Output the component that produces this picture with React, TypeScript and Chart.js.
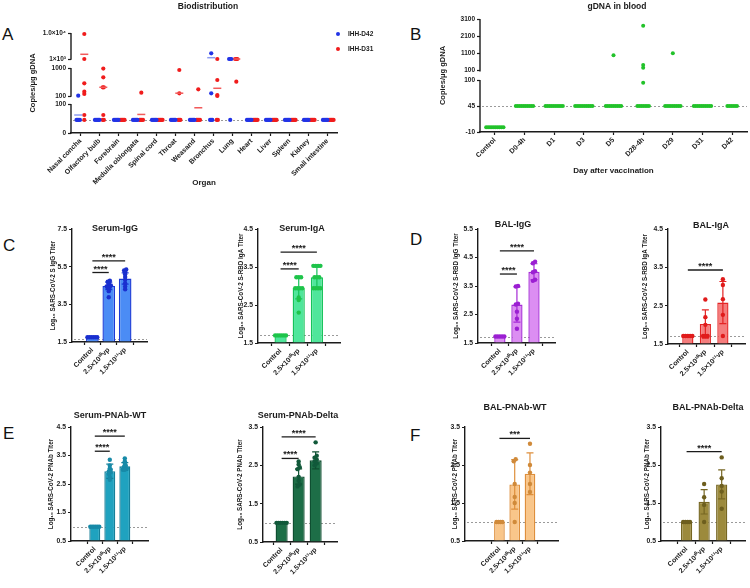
import React, { useEffect, useRef } from 'react';
import { Chart, registerables, LinearScale } from 'chart.js';

Chart.register(...registerables);

const FONT = '"Liberation Sans", Arial, Helvetica, sans-serif';
const INK = '#1b1b1b';
const LOD_COLOR = '#9a9a9a';

// ---------------- Panel A: Biodistribution ----------------
const organs = ['Nasal concha', 'Olfactory bulb', 'Forebrain', 'Medulla oblongata', 'Spinal cord', 'Throat', 'Weasand', 'Bronchus', 'Lung', 'Heart', 'Liver', 'Spleen', 'Kidney', 'Small intestine'];
const d42Values: number[][] = [
  [110, 45, 45, 45, 45],
  [45, 45, 45, 45, 45],
  [45, 45, 45, 45, 45],
  [45, 45, 45, 45, 45],
  [45, 45, 45, 45, 45],
  [45, 45, 45, 45, 45],
  [45, 45, 45, 45, 45],
  [2970, 187, 45, 45, 45],
  [1000, 1000, 1000, 45],
  [45, 45, 45, 45, 45],
  [45, 45, 45, 45, 45],
  [45, 45, 45, 45, 45],
  [45, 45, 45, 45, 45],
  [45, 45, 45, 45, 45],
];
const d31Values: number[][] = [
  [9650, 1000, 508, 238, 164, 62, 45],
  [980, 701, 380, 380, 62, 45, 45],
  [45, 45, 45, 45, 45],
  [206, 45, 45, 45, 45],
  [45, 45, 45, 45, 45],
  [936, 187, 45, 45, 45],
  [315, 45, 45, 45, 45],
  [1000, 614, 130, 100, 45, 45],
  [1000, 1000, 1000, 560],
  [45, 45, 45, 45, 45],
  [45, 45, 45, 45, 45],
  [45, 45, 45, 45, 45],
  [45, 45, 45, 45, 45],
  [45, 45, 45, 45, 45],
];
const d42Means: (number | null)[] = [62, null, null, null, null, null, null, 1450, null, null, null, null, null, null];
const d31Means: (number | null)[] = [2630, 380, null, 64, null, 190, 87, 348, 1000, null, null, null, null, null];
const aTickValues = [0, 100, 100, 1000, 1000, 10000];
const aTickLabels = ['0', '100', '100', '1000', '1×10³', '1.0×10⁴'];
const aTickSegments = [0, 0, 1, 1, 2, 2];
const aLod = 45;

// ---------------- Panel B: gDNA in blood ----------------
const days = ['Control', 'D0-4h', 'D1', 'D3', 'D5', 'D28-4h', 'D29', 'D31', 'D42'];
const bValues: number[][] = [
  [0, 0, 0, 0, 0, 0, 0, 0, 0, 0],
  [45, 45, 45, 45, 45, 45, 45, 45, 45, 45],
  [45, 45, 45, 45, 45, 45, 45, 45, 45, 45],
  [45, 45, 45, 45, 45, 45, 45, 45, 45, 45],
  [1000, 45, 45, 45, 45, 45, 45, 45, 45, 45],
  [2711, 431, 274, 94, 45, 45, 45, 45, 45, 45, 45],
  [1110, 45, 45, 45, 45, 45, 45, 45, 45, 45],
  [45, 45, 45, 45, 45, 45, 45, 45, 45, 45],
  [45, 45, 45, 45, 45, 45],
];
const bTickValues = [-10, 45, 100, 100, 1100, 2100, 3100];
const bTickLabels = ['-10', '45', '100', '100', '1100', '2100', '3100'];
const bTickSegments = [0, 0, 0, 1, 1, 1, 1];
const bLod = 45;

// ---------------- Bar panels ----------------
const groups = ['Control', '2.5×10¹⁰vp', '1.5×10¹¹vp'];

const serumIgGTicks = [1.5, 3.5, 5.5, 7.5];
const serumIgGMeans = [1.75, 4.48, 4.87];
const serumIgGSD = [0, 0.2, 0.3];
const serumIgGPoints = [[1.75, 1.75, 1.75, 1.75, 1.75, 1.75], [4.75, 4.7, 4.62, 4.55, 4.5, 4.5, 4.45, 4.42, 4.38, 4.3, 4.2, 3.88], [5.35, 5.3, 5.22, 5.1, 4.95, 4.8, 4.62, 4.45, 4.3]];
const serumIgGSig = [{ from: 0, to: 1, y: 5.19, text: '****' }, { from: 0, to: 2, y: 5.81, text: '****' }];

const serumIgATicks = [1.5, 2.5, 3.5, 4.5];
const serumIgAMeans = [1.7, 2.94, 3.23];
const serumIgASD = [0, 0.28, 0.27];
const serumIgAPoints = [[1.7, 1.7, 1.7, 1.7, 1.7, 1.7], [3.23, 3.23, 3.23, 2.94, 2.94, 2.94, 2.94, 2.7, 2.63, 2.3], [3.53, 3.53, 3.53, 3.53, 3.23, 3.23, 3.23, 2.94, 2.94, 2.94, 2.94]];
const serumIgASig = [{ from: 0, to: 1, y: 3.45, text: '****' }, { from: 0, to: 2, y: 3.89, text: '****' }];

const balIgGTicks = [1.5, 2.5, 3.5, 4.5, 5.5];
const balIgGMeans = [1.73, 2.85, 4.0];
const balIgGSD = [0, 0.62, 0.28];
const balIgGPoints = [[1.73, 1.73, 1.73, 1.73, 1.73], [3.5, 3.48, 2.88, 2.85, 2.6, 2.35, 2.0], [4.3, 4.35, 4.02, 3.98, 3.72, 3.68]];
const balIgGSig = [{ from: 0, to: 1, y: 3.92, text: '****' }, { from: 0, to: 2, y: 4.73, text: '****' }];

const balIgATicks = [1.5, 2.5, 3.5, 4.5];
const balIgAMeans = [1.71, 2.02, 2.58];
const balIgASD = [0, 0.37, 0.55];
const balIgAPoints = [[1.71, 1.71, 1.71, 1.71, 1.71], [2.66, 2.2, 2.0, 1.71, 1.71, 1.71], [3.19, 3.04, 2.67, 2.26, 1.71]];
const balIgASig = [{ from: 0, to: 2, y: 3.43, text: '****' }];

const serumWTTicks = [0.5, 1.5, 2.5, 3.5, 4.5];
const serumWTMeans = [1.0, 2.95, 3.12];
const serumWTSD = [0, 0.25, 0.13];
const serumWTPoints = [[1, 1, 1, 1, 1, 1], [3.35, 3.15, 3.05, 3.0, 2.95, 2.9, 2.85, 2.75, 2.65], [3.4, 3.3, 3.2, 3.15, 3.1, 3.05, 3.0, 3.0]];
const serumWTSig = [{ from: 0, to: 1, y: 3.65, text: '****' }, { from: 0, to: 2, y: 4.18, text: '****' }];

const serumDeltaTicks = [0.5, 1.5, 2.5, 3.5];
const serumDeltaMeans = [1.0, 2.21, 2.63];
const serumDeltaSD = [0, 0.2, 0.22];
const serumDeltaPoints = [[1, 1, 1, 1, 1, 1], [2.6, 2.52, 2.45, 2.4, 2.2, 2.1, 2.0, 1.95], [3.1, 2.75, 2.7, 2.65, 2.6, 2.55, 2.5]];
const serumDeltaSig = [{ from: 0, to: 1, y: 2.68, text: '****' }, { from: 0, to: 2, y: 3.24, text: '****' }];

const balWTTicks = [0.5, 1.5, 2.5, 3.5];
const balWTMeans = [1.0, 1.99, 2.27];
const balWTSD = [0, 0.65, 0.55];
const balWTPoints = [[1, 1, 1, 1], [2.65, 2.6, 2.0, 1.66, 1.5, 1.0], [3.06, 2.5, 2.3, 2.0, 1.79]];
const balWTSig = [{ from: 0, to: 2, y: 3.2, text: '***' }];

const balDeltaTicks = [0.5, 1.5, 2.5, 3.5];
const balDeltaMeans = [1.0, 1.53, 1.99];
const balDeltaSD = [0, 0.32, 0.38];
const balDeltaPoints = [[1, 1, 1, 1], [2.0, 1.65, 1.45, 1.0], [2.7, 2.15, 1.95, 1.8, 1.35]];
const balDeltaSig = [{ from: 0, to: 2, y: 2.85, text: '****' }];

// ---------------- helpers ----------------
type Seg = { v0: number; v1: number; d0: number; d1: number };
type Box = { L: number; T: number; R: number; B: number; l: number; t: number; r: number; b: number; yTitleX: number; xTitleY?: number };

const segsA: Seg[] = [
  { v0: 0, v1: 100, d0: 0, d1: 0.29 },
  { v0: 100, v1: 1000, d0: 0.37, d1: 0.65 },
  { v0: 1000, v1: 10000, d0: 0.74, d1: 1 },
];
const segsB: Seg[] = [
  { v0: -10, v1: 100, d0: 0, d1: 0.46 },
  { v0: 100, v1: 3100, d0: 0.5425, d1: 1 },
];

function segIndexFor(segs: Seg[], v: number) {
  for (let i = 0; i < segs.length; i++) if (v < segs[i].v1) return i;
  return segs.length - 1;
}
function valueToDecimal(segs: Seg[], v: number, si?: number) {
  const s = segs[si != null ? si : segIndexFor(segs, v)];
  return s.d0 + ((v - s.v0) / (s.v1 - s.v0)) * (s.d1 - s.d0);
}
function decimalToValue(segs: Seg[], d: number) {
  let s = segs[segs.length - 1];
  for (const sg of segs) if (d <= sg.d1) { s = sg; break; }
  return s.v0 + ((d - s.d0) / (s.d1 - s.d0)) * (s.v1 - s.v0);
}
function makeBrokenScale(id: string, segs: Seg[]) {
  class BrokenScale extends (LinearScale as any) {
    static id = id;
    static defaults = {};
    getPixelForValue(value: number) {
      return this.getPixelForDecimal(valueToDecimal(segs, value));
    }
    getValueForPixel(pixel: number) {
      return decimalToValue(segs, this.getDecimalForPixel(pixel));
    }
    getPixelForTick(index: number) {
      const t = this.ticks[index];
      if (!t) return null;
      return this.getPixelForDecimal(t.dec != null ? t.dec : valueToDecimal(segs, t.value));
    }
  }
  return BrokenScale;
}
Chart.register(makeBrokenScale('brokenA', segsA) as any, makeBrokenScale('brokenB', segsB) as any);

function swarm(vals: number[], tol: (v: number) => number, step: number, maxHalf: number): number[] {
  const order = vals.map((_, i) => i).sort((a, b) => vals[a] - vals[b]);
  const out = vals.map(() => 0);
  let s = 0;
  while (s < order.length) {
    let e = s + 1;
    const base = vals[order[s]];
    while (e < order.length && vals[order[e]] - base <= tol(base)) e++;
    const m = e - s;
    const st = m > 1 ? Math.min(step, (2 * maxHalf) / (m - 1)) : 0;
    for (let k = 0; k < m; k++) out[order[s + k]] = (k - (m - 1) / 2) * st;
    s = e;
  }
  return out;
}

function font(size: number, bold = true) {
  return { family: FONT, size, weight: bold ? 'bold' : 'normal', lineHeight: 1.2 };
}

function yAxis(box: Box, o: { type?: string; min: number; max: number; values: number[]; labels: string[]; decs?: number[]; title: string; titleSize: number; tickSize: number; border: boolean }) {
  const yW = box.l - box.L;
  const lh = o.titleSize * 1.2;
  return {
    type: o.type || 'linear',
    min: o.min,
    max: o.max,
    bounds: 'data',
    afterBuildTicks: (s: any) => {
      s.ticks = o.values.map((v, i) => ({ value: v, dec: o.decs ? o.decs[i] : undefined }));
    },
    afterFit: (s: any) => {
      s.width = yW;
      s.paddingTop = 0;
      s.paddingBottom = 0;
    },
    ticks: { autoSkip: false, font: font(o.tickSize), color: INK, padding: 2, callback: (_v: any, i: number) => o.labels[i] },
    grid: { display: true, drawOnChartArea: false, drawTicks: true, tickLength: 3, tickColor: INK, tickWidth: 1.2, color: INK },
    border: { display: o.border, color: INK, width: 1.4 },
    title: { display: true, text: o.title, color: INK, font: font(o.titleSize), padding: { top: Math.max(0, box.yTitleX - box.L - lh / 2), bottom: 0 } },
  };
}

function xAxis(box: Box, o: { min: number; max: number; labels: string[]; title?: string; titleSize: number; tickSize: number }) {
  const xH = box.B - box.b;
  const lh = o.titleSize * 1.2;
  return {
    type: 'linear',
    min: o.min,
    max: o.max,
    bounds: 'data',
    afterBuildTicks: (s: any) => {
      s.ticks = o.labels.map((_, i) => ({ value: i }));
    },
    afterFit: (s: any) => {
      s.height = xH;
      s.paddingLeft = 0;
      s.paddingRight = 0;
    },
    ticks: { autoSkip: false, minRotation: 45, maxRotation: 45, font: font(o.tickSize), color: INK, padding: 1, callback: (_v: any, i: number) => o.labels[i] },
    grid: { display: true, drawOnChartArea: false, drawTicks: true, tickLength: 3, tickColor: INK, tickWidth: 1.2, color: INK },
    border: { display: true, color: INK, width: 1.4 },
    title: o.title
      ? { display: true, text: o.title, color: INK, font: font(o.titleSize), padding: { top: 0, bottom: Math.max(0, (box.B - (box.xTitleY || box.B)) - lh / 2) } }
      : { display: false },
  };
}

function baseOptions(box: Box, x: any, y: any) {
  return {
    responsive: false,
    animation: false,
    devicePixelRatio: 1,
    events: [],
    layout: { autoPadding: false, padding: { left: 0, top: box.t - box.T, right: box.R - box.r, bottom: 0 } },
    plugins: { legend: { display: false }, tooltip: { enabled: false }, title: { display: false } },
    scales: { x, y },
  };
}

type Sig = { from: number; to: number; y: number; text: string };
type Deco = {
  box: Box;
  title?: { text: string; x: number; y: number; size: number };
  lod?: number;
  errors?: { means: number[]; sds: number[]; color: string };
  sig?: Sig[];
  brokenSegs?: Seg[];
  legend?: { items: { label: string; color: string }[]; x: number; y: number; gap: number };
};

function decoPlugin(d: Deco) {
  return {
    id: 'deco',
    beforeDatasetsDraw(chart: any) {
      const { ctx, chartArea: a, scales } = chart;
      if (d.lod != null) {
        const y = Math.round(scales.y.getPixelForValue(d.lod)) + 0.5;
        ctx.save();
        ctx.strokeStyle = LOD_COLOR;
        ctx.lineWidth = 1;
        ctx.setLineDash([2, 2]);
        ctx.beginPath();
        ctx.moveTo(a.left + 2, y);
        ctx.lineTo(a.right, y);
        ctx.stroke();
        ctx.restore();
      }
    },
    afterDatasetDraw(chart: any, args: any) {
      if (!d.errors || args.meta.type !== 'bar') return;
      const { ctx, scales } = chart;
      const e = d.errors;
      ctx.save();
      ctx.strokeStyle = e.color;
      ctx.lineWidth = 1.2;
      e.means.forEach((m, i) => {
        const sd = e.sds[i];
        if (!sd) return;
        const x = scales.x.getPixelForValue(i);
        const y1 = scales.y.getPixelForValue(m + sd);
        const y0 = scales.y.getPixelForValue(m - sd);
        ctx.beginPath();
        ctx.moveTo(x, y0);
        ctx.lineTo(x, y1);
        ctx.moveTo(x - 3.5, y1);
        ctx.lineTo(x + 3.5, y1);
        ctx.moveTo(x - 3.5, y0);
        ctx.lineTo(x + 3.5, y0);
        ctx.stroke();
      });
      ctx.restore();
    },
    afterDatasetsDraw(chart: any) {
      if (!d.sig) return;
      const { ctx, scales } = chart;
      ctx.save();
      ctx.strokeStyle = INK;
      ctx.fillStyle = INK;
      ctx.lineWidth = 1.3;
      ctx.font = `bold 9px ${FONT}`;
      ctx.textAlign = 'center';
      ctx.textBaseline = 'alphabetic';
      d.sig.forEach((s) => {
        const x0 = scales.x.getPixelForValue(s.from);
        const x1 = scales.x.getPixelForValue(s.to);
        const y = scales.y.getPixelForValue(s.y);
        ctx.beginPath();
        ctx.moveTo(x0, y);
        ctx.lineTo(x1, y);
        ctx.stroke();
        ctx.fillText(s.text, (x0 + x1) / 2, y - 1);
      });
      ctx.restore();
    },
    afterDraw(chart: any) {
      const { ctx, chartArea: a, scales } = chart;
      const box = d.box;
      if (d.brokenSegs) {
        ctx.save();
        ctx.strokeStyle = INK;
        ctx.lineWidth = 1.4;
        d.brokenSegs.forEach((s) => {
          const y0 = scales.y.getPixelForDecimal(s.d0);
          const y1 = scales.y.getPixelForDecimal(s.d1);
          ctx.beginPath();
          ctx.moveTo(a.left, y0 + 0.7);
          ctx.lineTo(a.left, y1);
          ctx.stroke();
        });
        ctx.restore();
      }
      if (d.title) {
        ctx.save();
        ctx.fillStyle = INK;
        ctx.font = `bold ${d.title.size}px ${FONT}`;
        ctx.textAlign = 'center';
        ctx.textBaseline = 'middle';
        ctx.fillText(d.title.text, d.title.x - box.L, d.title.y - box.T);
        ctx.restore();
      }
      if (d.legend) {
        const lg = d.legend;
        ctx.save();
        ctx.font = `bold 6.5px ${FONT}`;
        ctx.textAlign = 'left';
        ctx.textBaseline = 'middle';
        lg.items.forEach((it, i) => {
          const x = lg.x - box.L;
          const y = lg.y - box.T + i * lg.gap;
          ctx.fillStyle = it.color;
          ctx.beginPath();
          ctx.arc(x, y, 2, 0, Math.PI * 2);
          ctx.fill();
          ctx.fillStyle = INK;
          ctx.fillText(it.label, x + 10, y);
        });
        ctx.restore();
      }
    },
  };
}

// ---------------- chart builders ----------------
const A_BOX: Box = { L: 20, T: 0, R: 392, B: 195, l: 71, t: 33, r: 337, b: 133, yTitleX: 33, xTitleY: 183 };
const B_BOX: Box = { L: 430, T: 0, R: 750, B: 188, l: 480, t: 19, r: 747, b: 132, yTitleX: 443, xTitleY: 171 };

const BLUE = '#2233e6';
const RED = '#f01c1c';

function buildA() {
  const series = [
    { values: d42Values, means: d42Means, color: BLUE, meanColor: '#8d9cf2', shift: -0.12 },
    { values: d31Values, means: d31Means, color: RED, meanColor: '#f25a5a', shift: 0.2 },
  ];
  const datasets: any[] = [];
  series.forEach((s) => {
    const pts: any[] = [];
    s.values.forEach((vals, i) => {
      const offs = swarm(vals, (v) => v * 0.04 + 1, 0.06, 0.16);
      vals.forEach((v, j) => pts.push({ x: i + s.shift + offs[j], y: v }));
    });
    const mp: any[] = [];
    s.means.forEach((m, i) => {
      if (m != null) mp.push({ x: i + s.shift, y: m });
    });
    datasets.push({ type: 'scatter', data: mp, pointStyle: 'line', pointRadius: 4, pointBorderColor: s.meanColor, pointBorderWidth: 1.5, clip: false });
    datasets.push({ type: 'scatter', data: pts, pointBackgroundColor: s.color, pointBorderWidth: 0, pointRadius: 2.1, clip: false });
  });
  const decs = aTickValues.map((v, i) => valueToDecimal(segsA, v, aTickSegments[i]));
  return {
    type: 'scatter',
    data: { datasets },
    options: baseOptions(
      A_BOX,
      xAxis(A_BOX, { min: -0.5, max: organs.length - 0.5, labels: organs, title: 'Organ', titleSize: 8, tickSize: 7 }),
      yAxis(A_BOX, { type: 'brokenA', min: 0, max: 10000, values: aTickValues, labels: aTickLabels, decs, title: 'Copies/μg gDNA', titleSize: 7.5, tickSize: 6.5, border: false })
    ),
    plugins: [
      decoPlugin({
        box: A_BOX,
        title: { text: 'Biodistribution', x: 208, y: 7, size: 8.5 },
        lod: aLod,
        brokenSegs: segsA,
        legend: { items: [{ label: 'IHH-D42', color: BLUE }, { label: 'IHH-D31', color: RED }], x: 338, y: 34, gap: 15 },
      }),
    ],
  };
}

function buildB() {
  const pts: any[] = [];
  bValues.forEach((vals, i) => {
    const offs = swarm(vals, () => 1, 0.065, 0.3);
    vals.forEach((v, j) => pts.push({ x: i + offs[j], y: v }));
  });
  const decs = bTickValues.map((v, i) => valueToDecimal(segsB, v, bTickSegments[i]));
  return {
    type: 'scatter',
    data: { datasets: [{ type: 'scatter', data: pts, pointBackgroundColor: '#22c22a', pointBorderWidth: 0, pointRadius: 2, clip: false }] },
    options: baseOptions(
      B_BOX,
      xAxis(B_BOX, { min: -0.5, max: days.length - 0.5, labels: days, title: 'Day after vaccination', titleSize: 8, tickSize: 7 }),
      yAxis(B_BOX, { type: 'brokenB', min: -10, max: 3100, values: bTickValues, labels: bTickLabels, decs, title: 'Copies/μg gDNA', titleSize: 7.5, tickSize: 6.5, border: false })
    ),
    plugins: [decoPlugin({ box: B_BOX, title: { text: 'gDNA in blood', x: 617, y: 7, size: 8.5 }, lod: bLod, brokenSegs: segsB })],
  };
}

type BarPanel = {
  box: Box;
  title: string;
  titleX: number;
  titleY: number;
  yTitle: string;
  yTicks: number[];
  xRange: [number, number];
  means: number[];
  sds: number[];
  points: number[][];
  sig: Sig[];
  lod: number;
  fill: string;
  border: string;
  dot: string;
  barPct: number;
};

function buildBar(p: BarPanel) {
  const yMin = p.yTicks[0];
  const yMax = p.yTicks[p.yTicks.length - 1];
  const pts: any[] = [];
  p.points.forEach((vals, g) => {
    const offs = swarm(vals, () => 0.07, 0.13, 0.3);
    vals.forEach((v, j) => pts.push({ x: g + offs[j], y: v }));
  });
  return {
    type: 'bar',
    data: {
      datasets: [
        {
          type: 'bar',
          data: p.means.map((m, i) => ({ x: i, y: m })),
          backgroundColor: p.fill,
          borderColor: p.border,
          borderWidth: 1.4,
          borderSkipped: 'start',
          base: yMin,
          barPercentage: p.barPct,
          categoryPercentage: 1,
          order: 2,
        },
        { type: 'scatter', data: pts, pointBackgroundColor: p.dot, pointBorderWidth: 0, pointRadius: 2.2, order: 1, clip: false },
      ],
    },
    options: baseOptions(
      p.box,
      xAxis(p.box, { min: p.xRange[0], max: p.xRange[1], labels: groups, titleSize: 7, tickSize: 7 }),
      yAxis(p.box, { min: yMin, max: yMax, values: p.yTicks, labels: p.yTicks.map((v) => v.toFixed(1)), title: p.yTitle, titleSize: 6.3, tickSize: 6.8, border: true })
    ),
    plugins: [
      decoPlugin({
        box: p.box,
        title: { text: p.title, x: p.titleX, y: p.titleY, size: 9 },
        lod: p.lod,
        errors: { means: p.means, sds: p.sds, color: p.border },
        sig: p.sig,
      }),
    ],
  };
}

const barPanels: BarPanel[] = [
  {
    box: { L: 40, T: 215, R: 160, B: 395, l: 72, t: 229, r: 147, b: 342, yTitleX: 53 },
    title: 'Serum-IgG', titleX: 115, titleY: 229, yTitle: 'Log₁₀ SARS-CoV-2 S IgG Titer',
    yTicks: serumIgGTicks, xRange: [-0.48, 2.57], means: serumIgGMeans, sds: serumIgGSD, points: serumIgGPoints, sig: serumIgGSig,
    lod: 1.65, fill: '#4b8cf5', border: '#1a3ad6', dot: '#1a2fcf', barPct: 0.77,
  },
  {
    box: { L: 225, T: 215, R: 352, B: 395, l: 258, t: 229, r: 340, b: 343, yTitleX: 241 },
    title: 'Serum-IgA', titleX: 302, titleY: 229, yTitle: 'Log₁₀ SARS-CoV-2 S-RBD IgA Titer',
    yTicks: serumIgATicks, xRange: [-0.49, 2.52], means: serumIgAMeans, sds: serumIgASD, points: serumIgAPoints, sig: serumIgASig,
    lod: 1.7, fill: '#4fe69b', border: '#16c25a', dot: '#1ec44a', barPct: 0.67,
  },
  {
    box: { L: 445, T: 212, R: 565, B: 395, l: 478, t: 229, r: 555, b: 343, yTitleX: 456 },
    title: 'BAL-IgG', titleX: 513, titleY: 225, yTitle: 'Log₁₀ SARS-CoV-2 S-RBD IgG Titer',
    yTicks: balIgGTicks, xRange: [-0.53, 2.48], means: balIgGMeans, sds: balIgGSD, points: balIgGPoints, sig: balIgGSig,
    lod: 1.7, fill: '#dc8ef2', border: '#a52ad6', dot: '#9b1fd2', barPct: 0.66,
  },
  {
    box: { L: 632, T: 212, R: 750, B: 395, l: 668, t: 229, r: 745, b: 344, yTitleX: 645 },
    title: 'BAL-IgA', titleX: 711, titleY: 226, yTitle: 'Log₁₀ SARS-CoV-2 S-RBD IgA Titer',
    yTicks: balIgATicks, xRange: [-0.4, 2.53], means: balIgAMeans, sds: balIgASD, points: balIgAPoints, sig: balIgASig,
    lod: 1.7, fill: '#f57d7d', border: '#e42525', dot: '#e01b1b', barPct: 0.64,
  },
  {
    box: { L: 38, T: 400, R: 160, B: 588, l: 71, t: 427, r: 148, b: 541, yTitleX: 51 },
    title: 'Serum-PNAb-WT', titleX: 110, titleY: 416, yTitle: 'Log₁₀ SARS-CoV-2 PNAb Titer',
    yTicks: serumWTTicks, xRange: [-0.73, 2.69], means: serumWTMeans, sds: serumWTSD, points: serumWTPoints, sig: serumWTSig,
    lod: 1.0, fill: '#1fa2bf', border: '#157f99', dot: '#178aa8', barPct: 0.73,
  },
  {
    box: { L: 228, T: 400, R: 350, B: 588, l: 263, t: 427, r: 337, b: 542, yTitleX: 240 },
    title: 'Serum-PNAb-Delta', titleX: 298, titleY: 416, yTitle: 'Log₁₀ SARS-CoV-2 PNAb Titer',
    yTicks: serumDeltaTicks, xRange: [-0.37, 2.53], means: serumDeltaMeans, sds: serumDeltaSD, points: serumDeltaPoints, sig: serumDeltaSig,
    lod: 1.0, fill: '#1d6e47', border: '#0f4f31', dot: '#11593a', barPct: 0.71,
  },
  {
    box: { L: 432, T: 398, R: 570, B: 588, l: 465, t: 427, r: 558, b: 541, yTitleX: 455 },
    title: 'BAL-PNAb-WT', titleX: 515, titleY: 408, yTitle: 'Log₁₀ SARS-CoV-2 PNAb Titer',
    yTicks: balWTTicks, xRange: [-1.24, 2.82], means: balWTMeans, sds: balWTSD, points: balWTPoints, sig: balWTSig,
    lod: 1.0, fill: '#f9c68a', border: '#de8f3c', dot: '#d08a3a', barPct: 0.7,
  },
  {
    box: { L: 628, T: 398, R: 750, B: 588, l: 661, t: 427, r: 745, b: 541, yTitleX: 647 },
    title: 'BAL-PNAb-Delta', titleX: 708, titleY: 408, yTitle: 'Log₁₀ SARS-CoV-2 PNAb Titer',
    yTicks: balDeltaTicks, xRange: [-0.66, 2.53], means: balDeltaMeans, sds: balDeltaSD, points: balDeltaPoints, sig: balDeltaSig,
    lod: 1.0, fill: '#9c8a3c', border: '#766622', dot: '#6d5e1e', barPct: 0.64,
  },
];

function ChartCanvas({ box, build }: { box: Box; build: () => any }) {
  const ref = useRef<HTMLCanvasElement>(null);
  useEffect(() => {
    const chart = new Chart(ref.current as HTMLCanvasElement, build());
    return () => chart.destroy();
  }, []);
  const w = box.R - box.L;
  const h = box.B - box.T;
  return <canvas ref={ref} width={w} height={h} style={{ position: 'absolute', left: box.L, top: box.T, width: w, height: h }} />;
}

const letters = [
  { ch: 'A', x: 2, y: 28 },
  { ch: 'B', x: 410, y: 28 },
  { ch: 'C', x: 3, y: 239 },
  { ch: 'D', x: 410, y: 233 },
  { ch: 'E', x: 3, y: 427 },
  { ch: 'F', x: 410, y: 429 },
];

export default function App() {
  return (
    <div style={{ position: 'fixed', left: 0, top: 0, width: 750, height: 588, background: '#fff', overflow: 'hidden' }}>
      <ChartCanvas box={A_BOX} build={buildA} />
      <ChartCanvas box={B_BOX} build={buildB} />
      {barPanels.map((p, i) => (
        <ChartCanvas key={i} box={p.box} build={() => buildBar(p)} />
      ))}
      {letters.map((l) => (
        <div
          key={l.ch}
          style={{ position: 'absolute', left: l.x, top: l.y - 2.2, fontFamily: FONT, fontSize: 17, lineHeight: '17px', color: '#111' }}
        >
          {l.ch}
        </div>
      ))}
    </div>
  );
}
